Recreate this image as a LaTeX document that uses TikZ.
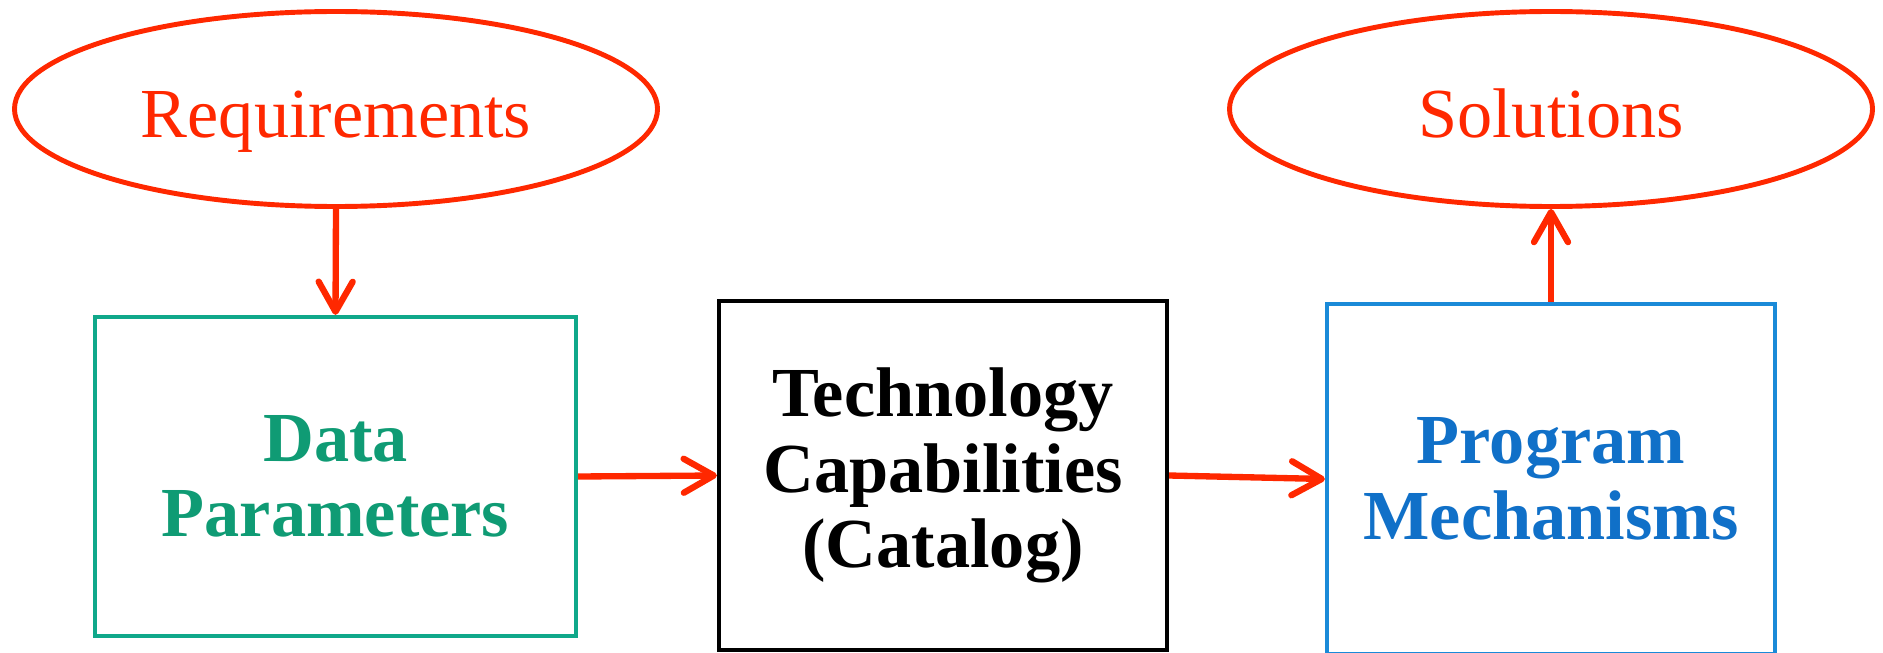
\documentclass[tikz,border=0pt]{standalone}
\usepackage{fontspec}
\setmainfont{Liberation Serif}
\usetikzlibrary{arrows.meta, positioning, shapes.geometric}
\definecolor{merahcf}{RGB}{255,40,0}
\definecolor{hijaucf}{RGB}{16,168,138}
\definecolor{hijauteks}{RGB}{15,155,116}
\definecolor{birucf}{RGB}{26,138,216}
\definecolor{biruteks}{RGB}{16,112,200}
\tikzset{
  oval/.style={ellipse, draw=merahcf, line width=1.4pt, text=merahcf,
    minimum width=6.43cm, minimum height=1.95cm, text height=16pt, text depth=0pt},
  kotak/.style={rectangle, draw, line width=1.2pt, align=center,
    font=\fontsize{20}{21.5}\selectfont\bfseries},
  panah/.style={merahcf, line width=1.8pt,
    -{Straight Barb[length=3mm, width=3.4mm, round]}}
}

\begin{document}
\begin{tikzpicture}[font=\fontsize{20}{21.5}\selectfont]
                \useasboundingbox (0,0) rectangle (18.83,6.52);
                \node[oval] (req) at (3.36,5.43) {Requirements};
                \node[oval] (sol) at (15.51,5.43) {Solutions};
                \node[kotak, draw=hijaucf, text=hijauteks, minimum width=4.81cm, minimum height=3.19cm]
                    (data) at (3.355,1.755) {Data\\Parameters};
                \node[kotak, draw=black, fill=white, minimum width=4.48cm, minimum height=3.49cm]
                    (tech) at (9.43,1.765) {Technology\\Capabilities\\(Catalog)};
                \node[kotak, draw=birucf, fill=white, text=biruteks, minimum width=4.48cm, minimum height=3.5cm]
                    (prog) at (15.51,1.73) {Program\\Mechanisms};
                \draw[panah] (req.south) -- (data.north);
                \draw[panah] (data.east) -- (tech.west);
                \draw[panah] (tech.east) -- (prog.west);
                \draw[panah] (prog.north) -- (sol.south);
            \end{tikzpicture}
\end{document}
